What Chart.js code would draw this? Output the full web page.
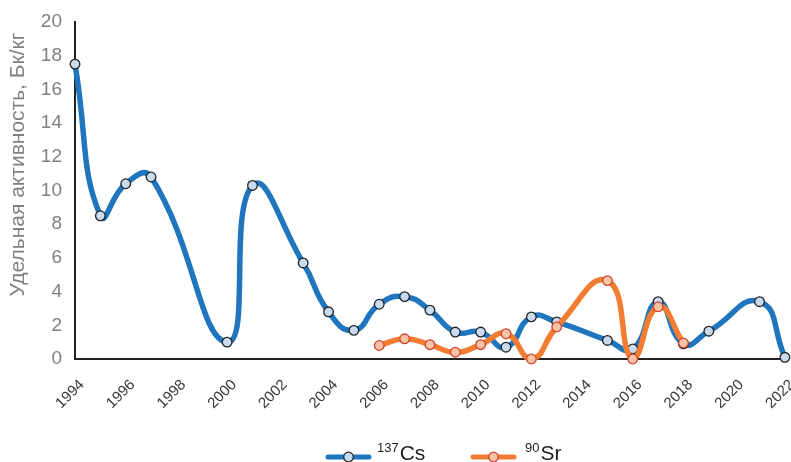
<!DOCTYPE html>
<html><head><meta charset="utf-8">
<script src="https://cdn.jsdelivr.net/npm/chart.js@4/dist/chart.umd.min.js"></script>
<style>html,body{margin:0;padding:0;background:#fff}#wrap{width:791px;height:462px}</style>
</head><body><div id="wrap"><canvas id="c" width="791" height="462"></canvas></div>
<script>
const csYears = [1994,1995,1996,1997,2000,2001,2003,2004,2005,2006,2007,2008,2009,2010,2011,2012,2013,2015,2016,2017,2018,2019,2021,2022];
const csValues = [17.5,8.5,10.4,10.8,1.0,10.3,5.7,2.8,1.7,3.25,3.7,2.9,1.6,1.6,0.7,2.5,2.2,1.1,0.6,3.4,0.9,1.65,3.4,0.1];
const srYears = [2006,2007,2008,2009,2010,2011,2012,2013,2015,2016,2017,2018];
const srValues = [0.8,1.2,0.85,0.4,0.85,1.5,0.0,1.9,4.65,0.0,3.1,0.95];
const xTicks = [1994,1996,1998,2000,2002,2004,2006,2008,2010,2012,2014,2016,2018,2020,2022];
const yTicks = [0,2,4,6,8,10,12,14,16,18,20];
const seriesNames = [['137','Cs'],['90','Sr']];
const yTitle = 'Удельная активность, Бк/кг';

const BLUE='#1f75be', ORANGE='#f27d32';
const FONT='"Liberation Sans", Arial, sans-serif';
const toXY=(xs,ys)=>xs.map((x,i)=>({x:x,y:ys[i]}));

const legendPlugin={
  id:'customLegend',
  afterDraw(chart){
    const ctx=chart.ctx;
    const items=[
      {x0:328,line:BLUE,fill:'#c9dcef',border:'#222',tx:377,name:seriesNames[0]},
      {x0:473,line:ORANGE,fill:'#f8c3a5',border:'#d0402a',tx:525,name:seriesNames[1]}
    ];
    const y=457;
    ctx.save();
    items.forEach(it=>{
      ctx.strokeStyle=it.line;ctx.lineWidth=5;ctx.lineCap='round';
      ctx.beginPath();ctx.moveTo(it.x0,y);ctx.lineTo(it.x0+41,y);ctx.stroke();
      ctx.beginPath();ctx.arc(it.x0+20.5,y,4.8,0,Math.PI*2);
      ctx.fillStyle=it.fill;ctx.fill();ctx.lineWidth=1.3;ctx.strokeStyle=it.border;ctx.stroke();
      ctx.fillStyle='#222';ctx.textBaseline='alphabetic';ctx.textAlign='left';
      ctx.font='13px '+FONT;
      ctx.fillText(it.name[0],it.tx,452);
      const w=ctx.measureText(it.name[0]).width;
      ctx.font='21px '+FONT;
      ctx.fillText(it.name[1],it.tx+w+1,460);
    });
    // y axis title
    ctx.translate(18.5,164.5);ctx.rotate(-Math.PI/2);
    ctx.font='21px '+FONT;ctx.fillStyle='#808080';ctx.textAlign='center';ctx.textBaseline='middle';
    ctx.fillText(yTitle,0,0);
    ctx.restore();
  }
};

const CLIP={left:8,top:8,right:8,bottom:8};
new Chart(document.getElementById('c'),{
  type:'line',
  data:{datasets:[
    {label:'137Cs',data:toXY(csYears,csValues),borderColor:BLUE,borderWidth:5.5,tension:0.5,clip:CLIP,
     pointRadius:4.8,pointBackgroundColor:'#c9dcef',pointBorderColor:'#222',pointBorderWidth:1.3,order:1,fill:false},
    {label:'90Sr',data:toXY(srYears,srValues),borderColor:ORANGE,borderWidth:5.5,tension:0.5,clip:CLIP,
     pointRadius:4.8,pointBackgroundColor:'#f8c3a5',pointBorderColor:'#d0402a',pointBorderWidth:1.3,order:0,fill:false}
  ]},
  options:{
    responsive:false,animation:false,
    layout:{padding:{top:22,right:5,left:0,bottom:0}},
    plugins:{legend:{display:false},tooltip:{enabled:false}},
    scales:{
      x:{type:'linear',min:1994,max:2022,
        grid:{display:false,drawOnChartArea:false,drawTicks:true,tickLength:5,tickColor:'#222',tickWidth:1.3},
        border:{display:true,color:'#222',width:2},
        afterBuildTicks(s){s.ticks=xTicks.map(v=>({value:v}));},
        afterFit(s){s.height=103;s.paddingLeft=0;s.paddingRight=0;},
        ticks:{minRotation:45,maxRotation:45,color:'#383838',padding:12,labelOffset:7,autoSkip:false,
          font:{family:FONT,size:15},callback:v=>String(v)}
      },
      y:{min:0,max:20,
        grid:{display:false,drawOnChartArea:false,drawTicks:true,tickLength:6,tickColor:'#222',tickWidth:1.3},
        border:{display:true,color:'#222',width:2},
        afterBuildTicks(s){s.ticks=yTicks.map(v=>({value:v}));},
        afterFit(s){s.width=75;},
        ticks:{color:'#808080',padding:7,font:{family:FONT,size:19}}
      }
    }
  },
  plugins:[legendPlugin]
});
</script></body></html>
